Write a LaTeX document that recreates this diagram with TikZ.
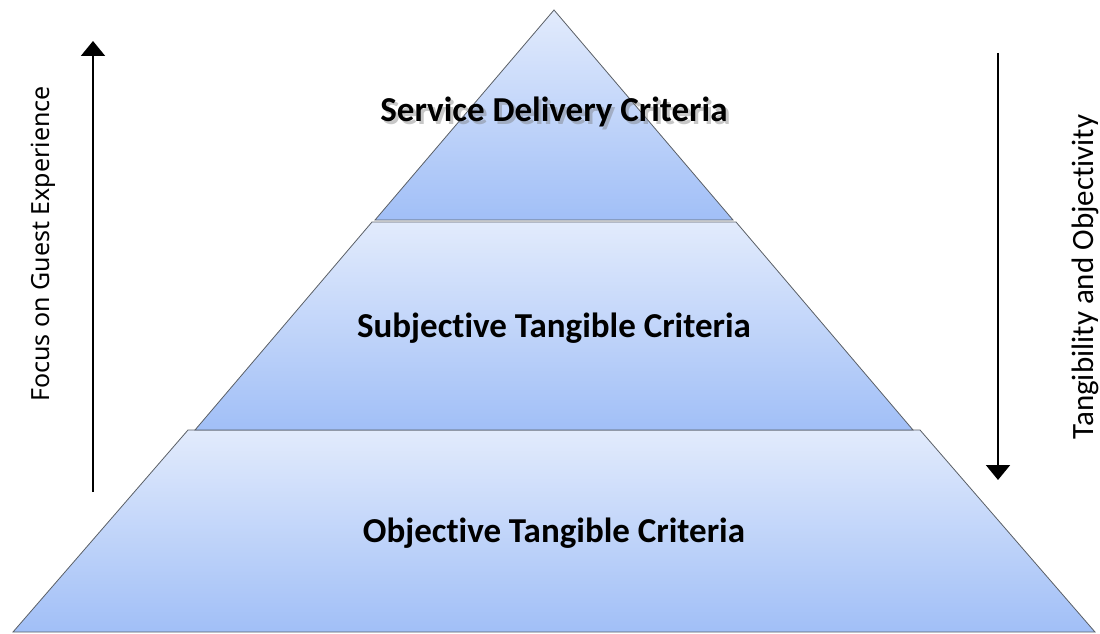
\documentclass[tikz,border=0pt]{standalone}
\usepackage{fontspec}
\setmainfont[Ligatures=NoCommon]{Carlito}
\newfontfamily\sidefont{Noto Sans}
\usetikzlibrary{arrows.meta}
\definecolor{bandtop}{HTML}{E2EBFC}
\definecolor{bandbot}{HTML}{A1BFF7}
\definecolor{bandedge}{HTML}{5A5F66}
\tikzset{
    band/.style={draw=bandedge, line width=0.8pt, top color=bandtop, bottom color=bandbot},
    tier/.style={font=\bfseries\fontsize{35}{40}\selectfont, inner sep=0pt},
    side/.style={rotate=90, inner sep=0pt},
    trend/.style={line width=2pt, -{Triangle[width=24pt,length=15pt]}}
}
\begin{document}
\begin{tikzpicture}[x=1pt, y=-1pt]
        \useasboundingbox (0,0) rectangle (1100,634);

        \path[band] (13,632) -- (188,430) -- (920,430) -- (1095,632) -- cycle;
        \path[band] (195,430) -- (372,222) -- (736,222) -- (913,430) -- cycle;
        \path[band] (375,220) -- (554,10) -- (733,220) -- cycle;

        \node[tier, text=black!55, opacity=0.4] at (557,115) {Service Delivery Criteria};
        \node[tier] (service) at (554,112) {Service Delivery Criteria};
        \node[tier] (subjective) at (554,328) {Subjective Tangible Criteria};
        \node[tier] (objective) at (554,533) {Objective Tangible Criteria};

        \node[side, font=\sidefont\fontsize{25}{30}\selectfont] (focus) at (43,244) {Focus on Guest Experience};
        \node[side, font=\fontsize{31}{36}\selectfont] (tangibility) at (1085,277) {Tangibility and Objectivity};

        \coordinate (focus tail) at (93,492);
        \coordinate (focus head) at (93,41);
        \coordinate (tangibility tail) at (998,53);
        \coordinate (tangibility head) at (998,480);
        \draw[trend] (focus tail) -- (focus head);
        \draw[trend] (tangibility tail) -- (tangibility head);
    \end{tikzpicture}
\end{document}
